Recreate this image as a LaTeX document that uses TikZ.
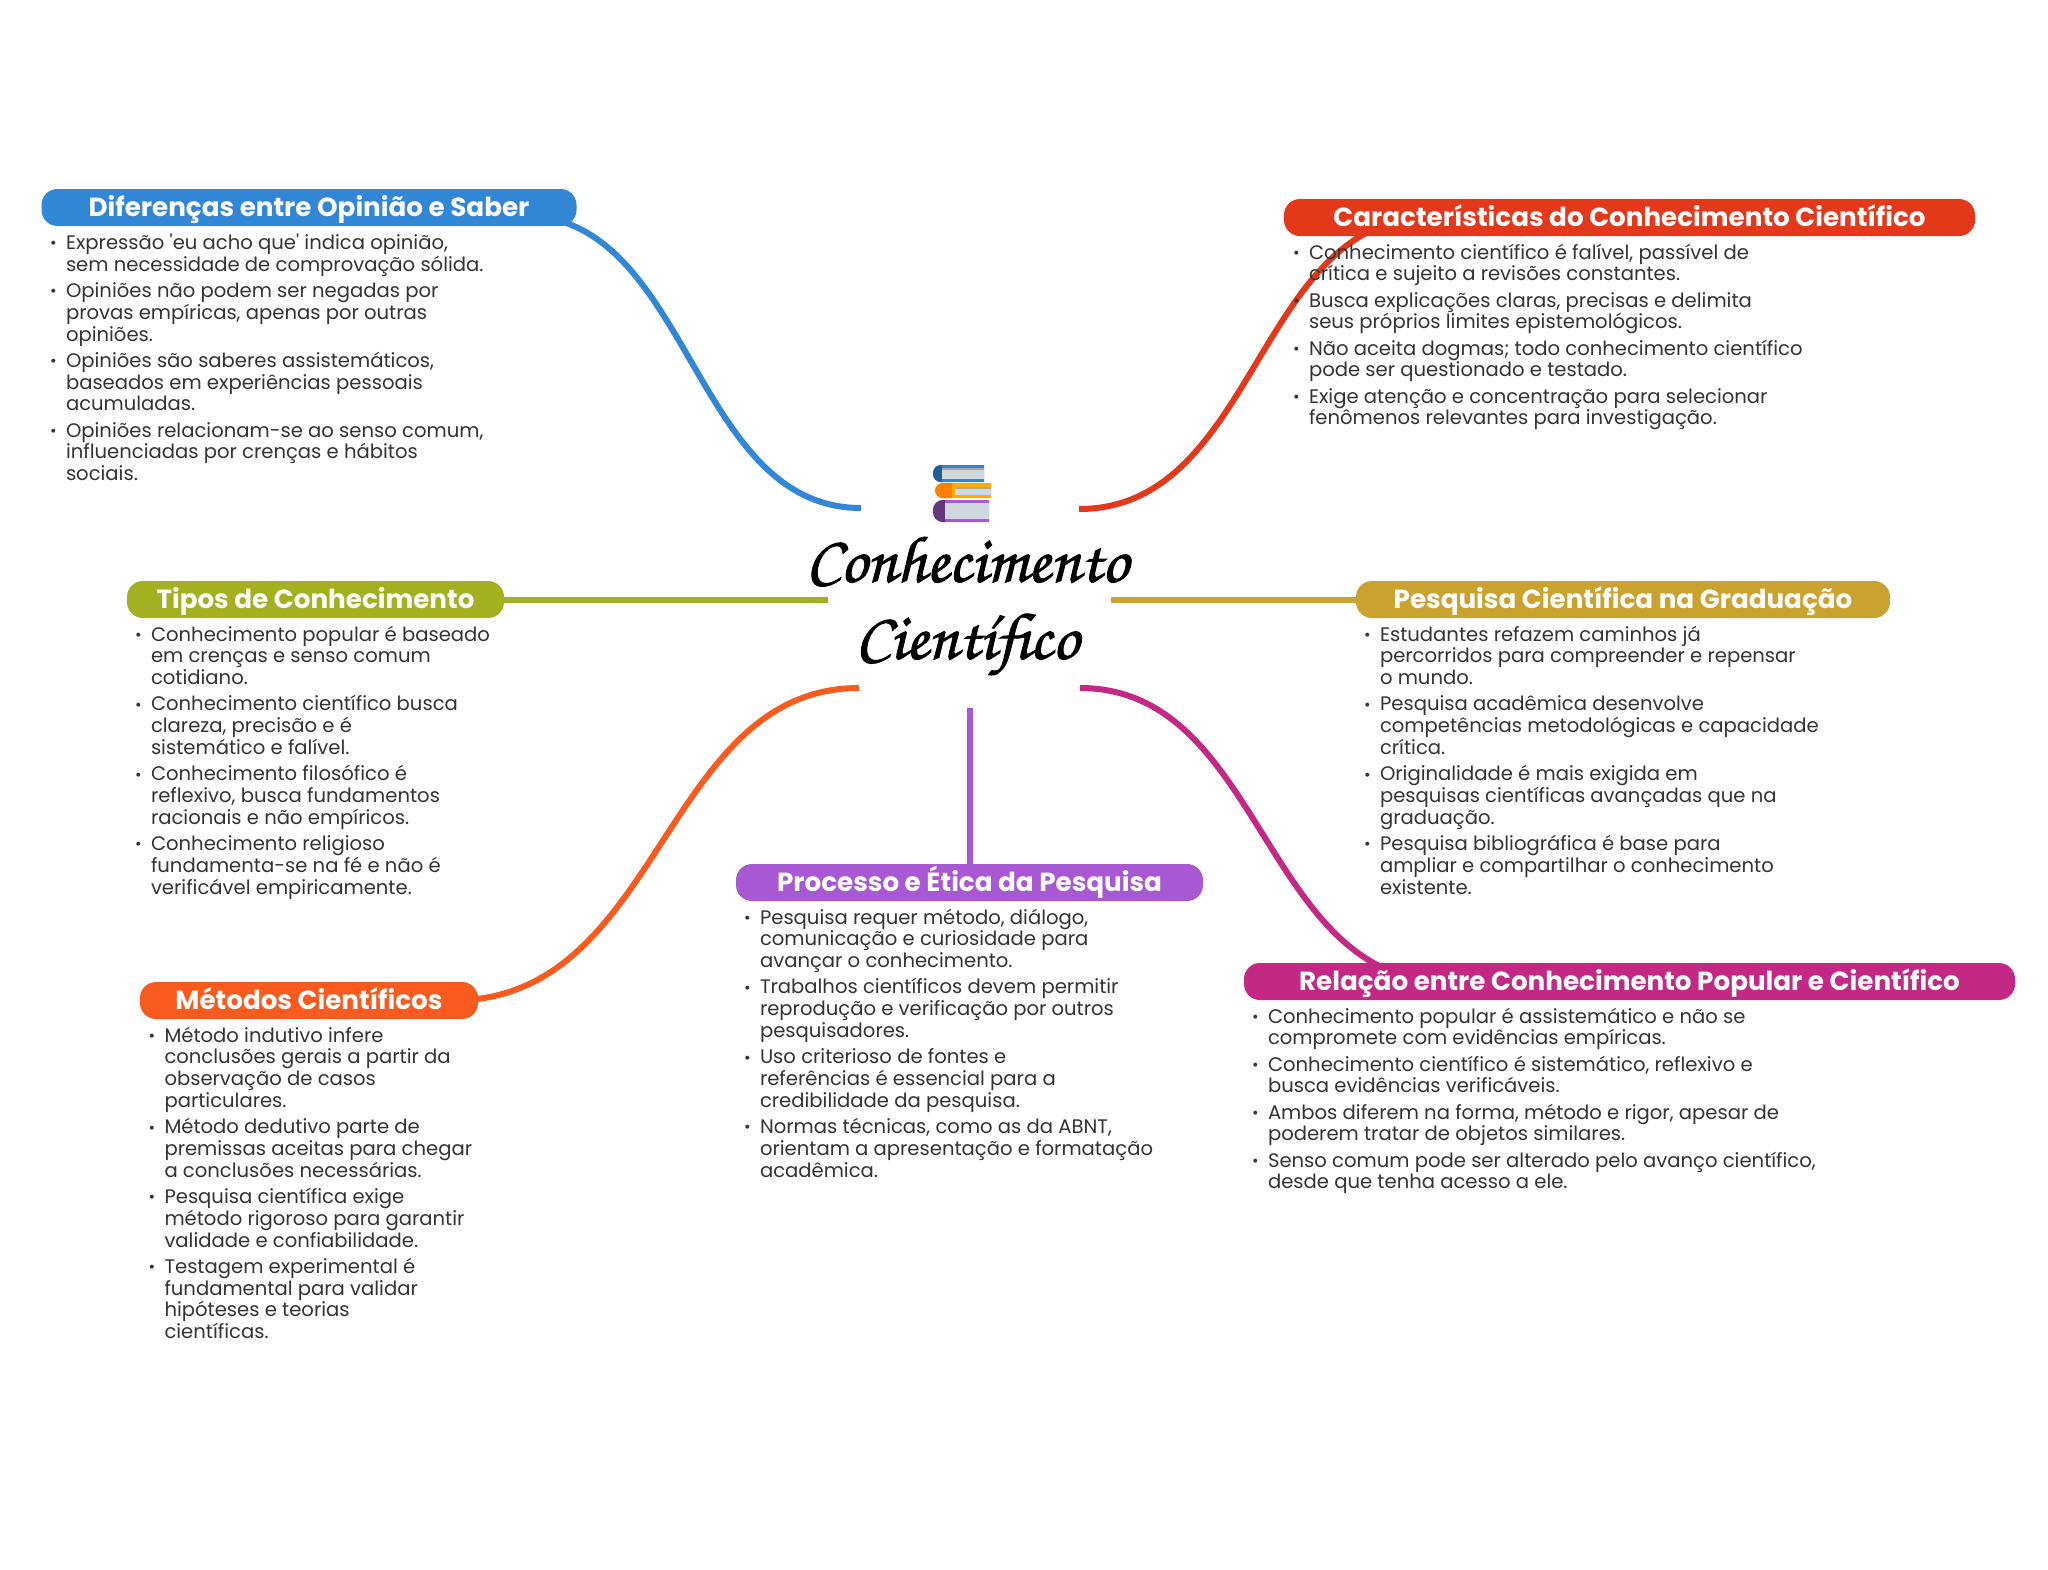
\documentclass[tikz,border=0pt]{standalone}
\usepackage{fontspec}
\setmainfont{Poppins}
\newfontfamily\rawfont{Poppins}
\newfontfamily\titlefont[FakeBold=1.5]{TeX Gyre Chorus}
\usetikzlibrary{backgrounds}

\definecolor{opiniaoC}{HTML}{3186D6}
\definecolor{caractC}{HTML}{E3381A}
\definecolor{tiposC}{HTML}{A3B01F}
\definecolor{graduC}{HTML}{C9A22F}
\definecolor{metodosC}{HTML}{F95A1E}
\definecolor{processoC}{HTML}{A858D3}
\definecolor{relacaoC}{HTML}{C42885}
\definecolor{bodyC}{HTML}{333333}
\definecolor{pageC}{HTML}{CFD8DC}

\newcommand{\dotitem}{\leavevmode\llap{\raisebox{0.3pt}{\fontsize{8}{8}\selectfont •}\hspace{4.7pt}}}
\newcommand{\sq}{{\rawfont'}}

\tikzset{
  pill/.style={fill=#1, text=white, rounded corners=8pt, inner sep=0pt, minimum height=18.5pt,
    text height=11pt, text depth=2pt, font=\fontsize{13.1}{14}\selectfont\bfseries},
  bodytext/.style={anchor=north west, align=left, inner sep=0pt, text=bodyC,
    font=\fontsize{9.8}{10.9}\selectfont},
  branch/.style={line width=3pt, color=#1},
}

\begin{document}
\begin{tikzpicture}[x=0.5pt,y=-0.5pt]

    \useasboundingbox (0,0) rectangle (2048,1569);

    % --- Central topic ---
    \node[align=center, inner sep=0pt, font=\titlefont\fontsize{33}{38.5}\selectfont] (central) at (967,606) {Conhecimento\\Científico};

    % --- Branch ends around the central topic ---
    \coordinate (opiniaoEnd) at (861,508);
    \coordinate (caractEnd) at (1079,509);
    \coordinate (tiposEnd) at (828,599.5);
    \coordinate (graduEnd) at (1111,599.5);
    \coordinate (metodosEnd) at (859,688);
    \coordinate (processoEnd) at (969.5,708);
    \coordinate (relacaoEnd) at (1080,688);

    % --- Topic pills ---
    \node[pill=opiniaoC, minimum width=267.5pt] (opiniao) at (309,207.5) {Diferenças entre Opinião e Saber};
    \node[pill=caractC, minimum width=345.5pt] (caract) at (1629.5,217.5) {Características do Conhecimento Científico};
    \node[pill=tiposC, minimum width=188.5pt] (tipos) at (315.5,599.5) {Tipos de Conhecimento};
    \node[pill=graduC, minimum width=267pt] (gradu) at (1623,599.5) {Pesquisa Científica na Graduação};
    \node[pill=metodosC, minimum width=169pt] (metodos) at (309,1000.5) {Métodos Científicos};
    \node[pill=processoC, minimum width=233.5pt] (processo) at (969.5,882.5) {Processo e Ética da Pesquisa};
    \node[pill=relacaoC, minimum width=385.5pt] (relacao) at (1629.5,981.5) {Relação entre Conhecimento Popular e Científico};

    % --- Bullet texts under each pill ---
    \node[bodytext] (opiniaoTxt) at ([shift={(24.5,7)}]opiniao.south west) {%
      \dotitem Expressão \sq eu acho que\sq{} indica opinião,\\ sem necessidade de comprovação sólida.\\[2.2pt]
      \dotitem Opiniões não podem ser negadas por\\ provas empíricas, apenas por outras\\ opiniões.\\[2.2pt]
      \dotitem Opiniões são saberes assistemáticos,\\ baseados em experiências pessoais\\ acumuladas.\\[2.2pt]
      \dotitem Opiniões relacionam-se ao senso comum,\\ influenciadas por crenças e hábitos\\ sociais.};
    \node[bodytext] (caractTxt) at ([shift={(25,7)}]caract.south west) {%
      \dotitem Conhecimento científico é falível, passível de\\ crítica e sujeito a revisões constantes.\\[2.2pt]
      \dotitem Busca explicações claras, precisas e delimita\\ seus próprios limites epistemológicos.\\[2.2pt]
      \dotitem Não aceita dogmas; todo conhecimento científico\\ pode ser questionado e testado.\\[2.2pt]
      \dotitem Exige atenção e concentração para selecionar\\ fenômenos relevantes para investigação.};
    \node[bodytext] (tiposTxt) at ([shift={(24,7)}]tipos.south west) {%
      \dotitem Conhecimento popular é baseado\\ em crenças e senso comum\\ cotidiano.\\[2.2pt]
      \dotitem Conhecimento científico busca\\ clareza, precisão e é\\ sistemático e falível.\\[2.2pt]
      \dotitem Conhecimento filosófico é\\ reflexivo, busca fundamentos\\ racionais e não empíricos.\\[2.2pt]
      \dotitem Conhecimento religioso\\ fundamenta-se na fé e não é\\ verificável empiricamente.};
    \node[bodytext] (graduTxt) at ([shift={(24,7)}]gradu.south west) {%
      \dotitem Estudantes refazem caminhos já\\ percorridos para compreender e repensar\\ o mundo.\\[2.2pt]
      \dotitem Pesquisa acadêmica desenvolve\\ competências metodológicas e capacidade\\ crítica.\\[2.2pt]
      \dotitem Originalidade é mais exigida em\\ pesquisas científicas avançadas que na\\ graduação.\\[2.2pt]
      \dotitem Pesquisa bibliográfica é base para\\ ampliar e compartilhar o conhecimento\\ existente.};
    \node[bodytext] (metodosTxt) at ([shift={(24.5,7)}]metodos.south west) {%
      \dotitem Método indutivo infere\\ conclusões gerais a partir da\\ observação de casos\\ particulares.\\[2.2pt]
      \dotitem Método dedutivo parte de\\ premissas aceitas para chegar\\ a conclusões necessárias.\\[2.2pt]
      \dotitem Pesquisa científica exige\\ método rigoroso para garantir\\ validade e confiabilidade.\\[2.2pt]
      \dotitem Testagem experimental é\\ fundamental para validar\\ hipóteses e teorias\\ científicas.};
    \node[bodytext] (processoTxt) at ([shift={(24,7)}]processo.south west) {%
      \dotitem Pesquisa requer método, diálogo,\\ comunicação e curiosidade para\\ avançar o conhecimento.\\[2.2pt]
      \dotitem Trabalhos científicos devem permitir\\ reprodução e verificação por outros\\ pesquisadores.\\[2.2pt]
      \dotitem Uso criterioso de fontes e\\ referências é essencial para a\\ credibilidade da pesquisa.\\[2.2pt]
      \dotitem Normas técnicas, como as da ABNT,\\ orientam a apresentação e formatação\\ acadêmica.};
    \node[bodytext] (relacaoTxt) at ([shift={(24,7)}]relacao.south west) {%
      \dotitem Conhecimento popular é assistemático e não se\\ compromete com evidências empíricas.\\[2.2pt]
      \dotitem Conhecimento científico é sistemático, reflexivo e\\ busca evidências verificáveis.\\[2.2pt]
      \dotitem Ambos diferem na forma, método e rigor, apesar de\\ poderem tratar de objetos similares.\\[2.2pt]
      \dotitem Senso comum pode ser alterado pelo avanço científico,\\ desde que tenha acesso a ele.};

    % --- Branches, behind pills and texts ---
    \begin{scope}[on background layer]
      \draw[branch=opiniaoC] ([shift={(-55,8)}]opiniao.east) .. controls (691,215) and (691,508) .. (opiniaoEnd);
      \draw[branch=caractC] ([shift={(146,0)}]caract.west) .. controls (1257,217) and (1257,509) .. (caractEnd);
      \draw[branch=tiposC] (tipos.east) -- (tiposEnd);
      \draw[branch=graduC] (gradu.west) -- (graduEnd);
      \draw[branch=metodosC] ([xshift=-13]metodos.east) .. controls (662,1001) and (662,688) .. (metodosEnd);
      \draw[branch=processoC] (processo.north) -- (processoEnd);
      \draw[branch=relacaoC] ([shift={(202,0)}]relacao.west) .. controls (1263,981) and (1263,688) .. (relacaoEnd);
    \end{scope}

    % --- Stack of books above the title ---
    % bottom book
    \fill[processoC] (989,500) [rounded corners=5pt] -- (933,500) -- (933,522) [sharp corners] -- (989,522) -- cycle;
    \fill[processoC!60!black] (945,500) [rounded corners=5pt] -- (933,500) -- (933,522) [sharp corners] -- (945,522) -- cycle;
    \fill[pageC] (945,503) rectangle (989,519);
    % middle book
    \fill[orange!65!yellow] (991,483) [rounded corners=4pt] -- (935,483) -- (935,498) [sharp corners] -- (991,498) -- cycle;
    \fill[orange] (952,483) [rounded corners=4pt] -- (935,483) -- (935,498) [sharp corners] -- (952,498) -- cycle;
    \fill[pageC] (955,487) rectangle (991,495);
    \fill[black!35] (955,487) rectangle (991,489);
    % top book
    \fill[opiniaoC] (984,465) [rounded corners=4pt] -- (933,465) -- (933,482) [sharp corners] -- (984,482) -- cycle;
    \fill[opiniaoC!70!black] (942,465) [rounded corners=4pt] -- (933,465) -- (933,482) [sharp corners] -- (942,482) -- cycle;
    \fill[pageC] (942,468) rectangle (984,479);
    \fill[black!35] (942,468) rectangle (984,470);

\end{tikzpicture}
\end{document}
